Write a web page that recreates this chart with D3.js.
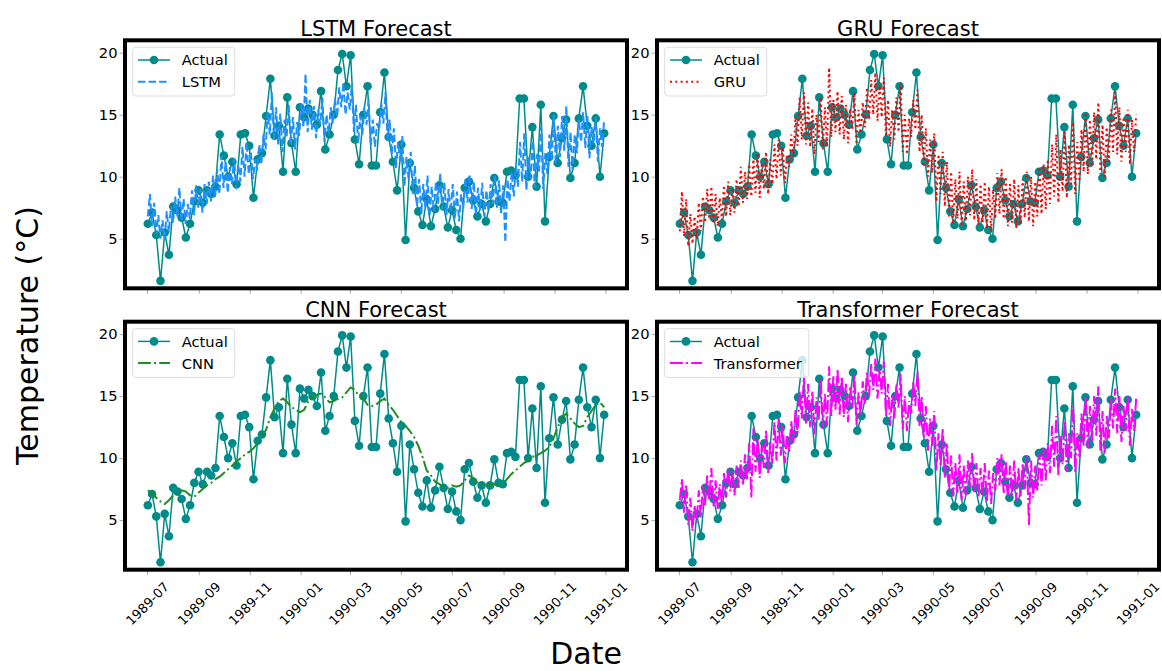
<!DOCTYPE html>
<html lang="en">
<head>
<meta charset="UTF-8">
<title>Forecast comparison</title>
<script src="https://cdn.jsdelivr.net/npm/d3@7"></script>
<style>
  body { margin: 0; background: #fff; }
  text { font-family: "DejaVu Sans", sans-serif; fill: #000; }
</style>
</head>
<body>
<svg id="chart"></svg>
<script>
// observed series, one point every ~5 days
var startDate = "1989-07-02";
var stepDays = 5.06;
var actual = [6.2, 7.1, 5.3, 1.6, 5.5, 3.7, 7.6, 7.3, 6.7, 5.1, 6.2, 8.0, 8.9, 7.9, 8.9, 8.6, 9.2, 13.4, 11.7, 10.0,
  11.2, 9.4, 13.4, 13.5, 12.5, 8.3, 11.4, 11.9, 14.9, 17.9, 13.3, 14.1, 10.4, 16.4, 12.7, 10.4, 15.6, 14.8, 15.5, 15.0,
  14.2, 16.9, 12.2, 13.4, 15.0, 18.6, 19.9, 17.3, 19.8, 13.0, 11.0, 15.0, 17.3, 10.9, 10.9, 15.2, 18.4, 13.2, 11.2, 8.9,
  12.6, 4.9, 11.1, 9.1, 7.2, 6.1, 8.2, 6.0, 7.4, 9.3, 7.6, 5.9, 7.3, 5.7, 5.0, 9.1, 9.6, 8.1, 6.8, 7.8,
  6.4, 7.8, 9.9, 8.0, 7.9, 10.4, 10.5, 10.1, 16.3, 16.3, 10.0, 14.0, 9.2, 15.8, 6.4, 11.6, 14.9, 11.1, 13.1, 14.6,
  9.9, 11.1, 14.7, 17.3, 14.1, 12.5, 14.7, 10.0, 13.5];

// model forecasts (dense ones have two values per observed step)
var lstm = [6.8, 8.6, 6.0, 7.9, 5.4, 6.9, 5.0, 6.5, 4.9, 7.2, 5.5, 7.6, 6.3, 8.4, 6.8, 9.1, 6.4, 8.2, 6.2, 7.8,
  6.6, 8.9, 6.9, 9.3, 7.5, 9.0, 7.1, 9.4, 7.8, 9.6, 8.0, 10.1, 8.3, 10.6, 8.6, 11.7, 9.1, 11.2, 8.7, 10.8,
  9.4, 11.5, 9.0, 11.0, 9.6, 12.4, 10.0, 12.8, 10.2, 12.0, 9.8, 11.4, 10.5, 12.6, 11.0, 13.4, 12.2, 15.2, 13.4, 16.8,
  13.0, 15.6, 12.6, 15.1, 12.0, 14.6, 13.2, 15.8, 12.5, 14.8, 12.2, 14.4, 13.3, 15.9, 14.0, 18.3, 13.6, 16.2, 13.8, 15.7,
  13.1, 15.4, 14.2, 16.4, 12.8, 15.0, 13.5, 15.6, 14.3, 16.3, 14.8, 17.2, 15.6, 17.6, 15.0, 16.8, 15.4, 17.4, 13.6, 15.8,
  12.7, 14.9, 13.4, 15.6, 14.2, 16.2, 12.5, 14.6, 12.4, 14.3, 13.8, 15.9, 14.3, 16.8, 12.9, 14.6, 11.8, 13.9, 10.7, 12.8,
  11.2, 13.3, 9.2, 11.6, 9.8, 12.0, 8.6, 10.9, 7.6, 9.8, 7.0, 9.4, 7.4, 10.1, 6.8, 9.2, 7.2, 9.6, 7.8, 10.3,
  7.3, 9.5, 6.9, 9.0, 7.1, 9.4, 6.6, 8.8, 6.4, 8.6, 7.5, 9.9, 7.9, 10.2, 7.4, 9.6, 6.9, 9.1, 7.3, 9.5,
  6.8, 8.9, 7.2, 9.4, 7.8, 10.1, 7.5, 9.7, 7.0, 9.3, 4.7, 9.8, 8.0, 10.4, 8.4, 10.9, 9.2, 12.8, 9.6, 13.5,
  8.9, 11.6, 9.8, 12.9, 9.1, 11.8, 10.4, 14.0, 9.0, 11.9, 10.2, 13.4, 11.3, 15.0, 11.0, 14.1, 11.6, 14.9, 12.1, 15.7,
  10.8, 13.6, 10.5, 13.4, 11.9, 14.6, 12.8, 15.2, 12.3, 14.9, 11.5, 14.0, 12.6, 14.8, 11.2, 13.9, 12.4, 14.6];

var gru = [5.6, 8.8, 5.2, 8.2, 4.4, 7.0, 4.6, 6.8, 5.0, 7.9, 5.6, 8.4, 6.3, 9.0, 6.6, 9.2, 6.2, 8.6, 6.0, 8.3,
  6.5, 9.3, 6.8, 9.6, 6.9, 9.1, 7.1, 9.8, 7.6, 10.8, 7.9, 10.4, 8.2, 11.0, 8.4, 11.4, 8.7, 11.9, 8.3, 11.1,
  9.0, 12.0, 8.6, 11.4, 9.4, 12.6, 9.8, 13.0, 10.1, 12.4, 9.5, 11.8, 10.8, 13.4, 11.6, 14.8, 12.5, 16.4, 13.0, 16.8,
  12.6, 16.0, 12.4, 15.5, 11.8, 15.0, 12.8, 16.4, 12.2, 15.6, 12.4, 18.8, 13.2, 16.2, 13.6, 16.9, 13.4, 16.5, 13.0, 15.8,
  12.7, 15.5, 13.8, 16.8, 12.6, 15.4, 13.3, 16.0, 14.0, 17.2, 14.6, 17.8, 15.0, 18.4, 14.5, 17.6, 14.8, 18.0, 13.2, 16.2,
  12.4, 15.4, 13.0, 16.4, 13.6, 17.6, 12.0, 15.0, 11.8, 14.7, 13.2, 16.2, 13.8, 17.0, 12.0, 15.0, 10.8, 13.9, 10.0, 13.0,
  10.3, 13.5, 8.0, 11.8, 8.6, 12.0, 7.6, 11.2, 6.8, 10.4, 6.2, 9.8, 6.6, 10.4, 6.0, 9.6, 6.4, 10.0, 6.9, 10.6,
  6.5, 9.8, 6.1, 9.4, 6.3, 9.6, 5.8, 9.2, 5.6, 9.0, 6.6, 10.3, 7.0, 10.6, 6.6, 10.0, 6.0, 9.4, 6.3, 9.8,
  5.8, 9.3, 6.1, 9.8, 6.7, 10.4, 6.4, 10.0, 6.0, 9.6, 6.8, 10.8, 7.0, 11.0, 7.4, 11.4, 7.8, 12.6, 8.4, 13.4,
  7.9, 12.2, 8.8, 13.6, 8.3, 12.6, 9.4, 14.4, 8.6, 12.8, 9.6, 13.8, 10.4, 15.2, 10.2, 14.6, 10.8, 15.2, 11.4, 16.0,
  10.2, 14.2, 10.0, 14.0, 11.2, 15.4, 12.0, 16.8, 11.8, 15.6, 11.2, 14.8, 12.0, 15.4, 11.0, 14.6, 12.0, 15.0];

var cnn = [7.4, 7.2, 6.8, 6.5, 6.3, 6.6, 7.0, 7.2, 7.4, 7.3, 7.0, 6.9, 7.2, 7.5, 7.8, 8.0, 8.3, 8.5, 8.8, 9.1,
  9.4, 9.7, 10.0, 10.3, 10.5, 10.8, 11.2, 11.7, 12.3, 13.3, 14.0, 14.6, 14.8, 14.5, 14.1, 13.9, 13.7, 13.9, 14.6, 14.9,
  15.1, 15.2, 14.9, 14.5, 14.6, 14.8, 14.9, 15.3, 15.7, 15.5, 15.0, 14.8, 14.3, 14.2, 14.3, 14.6, 14.8, 14.3, 13.9, 13.4,
  12.9, 12.6, 12.2, 11.7, 11.0, 10.1, 9.0, 8.6, 8.1, 7.9, 7.7, 7.6, 7.8, 7.7, 7.8, 8.2, 8.6, 8.4, 8.0, 7.9,
  7.9, 7.8, 7.9, 7.8, 7.9, 8.3, 8.7, 9.0, 9.3, 9.6, 9.8, 10.1, 10.2, 10.4, 10.6, 10.9, 11.6, 12.5, 13.2, 13.6,
  13.2, 12.8, 12.5, 12.6, 13.3, 13.8, 14.3, 14.5, 14.1];

var transformer = [6.6, 8.3, 5.6, 7.9, 4.6, 6.8, 4.1, 6.2, 4.8, 7.4, 5.2, 7.8, 6.2, 8.6, 6.6, 9.2, 6.1, 8.2, 5.9, 7.9,
  6.3, 8.8, 6.8, 9.2, 7.3, 9.0, 7.0, 9.4, 7.6, 9.8, 7.8, 10.3, 8.2, 11.2, 6.8, 12.4, 8.9, 11.6, 8.4, 11.0,
  9.2, 12.2, 8.8, 11.3, 9.5, 12.9, 9.8, 13.2, 10.2, 12.6, 9.6, 11.9, 10.5, 13.0, 11.2, 13.9, 12.0, 15.4, 13.2, 16.7,
  12.8, 16.0, 12.5, 15.4, 11.9, 14.9, 13.0, 16.4, 12.4, 15.2, 12.6, 17.4, 13.4, 16.6, 13.9, 17.2, 13.5, 16.6, 13.3, 16.0,
  12.9, 15.8, 14.0, 16.8, 12.7, 15.3, 13.4, 16.2, 14.4, 17.0, 15.0, 17.6, 15.5, 18.0, 14.8, 17.2, 15.2, 17.8, 13.4, 16.0,
  12.6, 15.2, 13.2, 16.0, 14.0, 16.8, 12.3, 15.0, 12.2, 14.6, 13.6, 16.2, 14.2, 17.0, 12.6, 15.0, 11.6, 14.2, 10.6, 13.2,
  11.0, 13.8, 9.0, 12.0, 9.4, 12.4, 8.4, 11.2, 7.4, 10.2, 6.9, 9.6, 7.2, 10.3, 6.6, 9.4, 7.0, 9.8, 7.6, 10.4,
  7.2, 9.6, 6.8, 9.2, 7.0, 9.6, 6.5, 9.0, 6.3, 8.8, 7.4, 10.0, 7.8, 10.3, 7.2, 9.8, 6.6, 9.4, 7.0, 9.8,
  6.5, 9.2, 6.9, 9.6, 7.5, 10.2, 4.6, 9.8, 6.8, 9.4, 7.4, 10.4, 7.8, 10.8, 8.2, 11.2, 8.8, 12.6, 9.3, 13.4,
  8.6, 11.8, 9.5, 13.0, 8.9, 12.0, 10.0, 14.2, 8.8, 12.0, 10.0, 13.6, 11.0, 15.0, 10.8, 14.2, 11.3, 15.0, 11.8, 15.8,
  10.6, 13.8, 10.4, 13.4, 11.6, 14.8, 12.4, 15.6, 12.0, 15.0, 11.3, 14.2, 12.2, 15.0, 11.0, 14.0, 12.2, 14.8];

var models = ["LSTM", "GRU", "CNN", "Transformer"];
var forecasts = [lstm, gru, cnn, transformer];
var colors = ["#1e90ff", "#ff0000", "#228b22", "#ff00ff"];
var dashes = ["7.4,3.2", "2,3.3", "12.8,3.2,2,3.2", "12.8,3.2,2,3.2"];
var yTicks = [5, 10, 15, 20];
var actualColor = "#008b8b";

// layout
var W = 1162, H = 671;
var pw = 502, ph = 248;
var origins = [[125, 40.3], [657, 40.3], [125, 321.7], [657, 321.7]];

var svg = d3.select("#chart").attr("width", W).attr("height", H);

var t0 = d3.utcParse("%Y-%m-%d")(startDate).getTime();
var dates = actual.map(function(d, i) { return new Date(t0 + i * stepDays * 864e5); });
var ext = d3.extent(dates);
var pad = (ext[1] - ext[0]) * 0.05;
var xDomain = [new Date(+ext[0] - pad), new Date(+ext[1] + pad)];

models.forEach(function(name, k) {
  var g = svg.append("g")
    .attr("transform", "translate(" + origins[k][0] + "," + origins[k][1] + ")");
  var x = d3.scaleUtc().domain(xDomain).range([0, pw]);
  var y = d3.scaleLinear().domain([1, 21]).range([ph, 0]);
  var showLabels = k >= 2;

  // x axis
  var xa = g.append("g")
    .attr("transform", "translate(0," + ph + ")")
    .call(d3.axisBottom(x)
      .ticks(d3.utcMonth.every(2))
      .tickFormat(showLabels ? d3.utcFormat("%Y-%m") : "")
      .tickSize(5.5));
  xa.select(".domain").remove();
  xa.selectAll("line").attr("stroke", "#aaa");
  xa.selectAll("text")
    .attr("y", 0).attr("dy", null)
    .attr("font-size", "13px")
    .attr("text-anchor", "middle")
    .attr("dominant-baseline", "central")
    .attr("transform", "translate(0,34) rotate(-45)");

  // y axis
  var ya = g.append("g")
    .call(d3.axisLeft(y).tickValues(yTicks).tickSize(5.5).tickPadding(2));
  ya.select(".domain").remove();
  ya.selectAll("line").attr("stroke", "#aaa");
  ya.selectAll("text").attr("font-size", "14.7px").attr("fill", "#000");

  // actual series
  var line = d3.line()
    .x(function(d, i) { return x(dates[i]); })
    .y(function(d) { return y(d); });
  g.append("path")
    .datum(actual)
    .attr("fill", "none")
    .attr("stroke", actualColor)
    .attr("stroke-width", 1.5)
    .attr("d", line);
  g.append("g").selectAll("circle")
    .data(actual)
    .join("circle")
    .attr("cx", function(d, i) { return x(dates[i]); })
    .attr("cy", function(d) { return y(d); })
    .attr("r", 4.3)
    .attr("fill", actualColor);

  // forecast, spread over the same time span
  var fc = forecasts[k];
  var fi = d3.scaleLinear().domain([0, fc.length - 1]).range([+ext[0], +ext[1]]);
  var fline = d3.line()
    .x(function(d, i) { return x(new Date(fi(i))); })
    .y(function(d) { return y(d); });
  g.append("path")
    .datum(fc)
    .attr("fill", "none")
    .attr("stroke", colors[k])
    .attr("stroke-width", 2)
    .attr("stroke-dasharray", dashes[k])
    .attr("d", fline);

  // frame
  g.append("rect")
    .attr("width", pw).attr("height", ph)
    .attr("fill", "none")
    .attr("stroke", "#000")
    .attr("stroke-width", 4);

  // title
  g.append("text")
    .attr("x", pw / 2).attr("y", -4.5)
    .attr("text-anchor", "middle")
    .attr("font-size", "21px")
    .text(name + " Forecast");

  // legend
  var lg = g.append("g").attr("transform", "translate(7.7,7)");
  var box = lg.append("rect")
    .attr("rx", 3).attr("height", 48.7)
    .attr("fill", "#fff").attr("fill-opacity", 0.8)
    .attr("stroke", "#ddd");
  lg.append("line")
    .attr("x1", 5.3).attr("x2", 37.3).attr("y1", 12.7).attr("y2", 12.7)
    .attr("stroke", actualColor).attr("stroke-width", 1.5);
  lg.append("circle").attr("cx", 21.3).attr("cy", 12.7).attr("r", 4.3).attr("fill", actualColor);
  lg.append("line")
    .attr("x1", 5.3).attr("x2", 37.3).attr("y1", 34.4).attr("y2", 34.4)
    .attr("stroke", colors[k]).attr("stroke-width", 2)
    .attr("stroke-dasharray", dashes[k]);
  var t1 = lg.append("text").attr("x", 49).attr("y", 12.7)
    .attr("dominant-baseline", "central").attr("font-size", "14.7px").text("Actual");
  var t2 = lg.append("text").attr("x", 49).attr("y", 34.4)
    .attr("dominant-baseline", "central").attr("font-size", "14.7px").text(name);
  var tw = Math.max(t1.node().getComputedTextLength(), t2.node().getComputedTextLength());
  box.attr("width", 49 + tw + 7);
});

// shared axis labels
svg.append("text")
  .attr("x", 586).attr("y", 664)
  .attr("text-anchor", "middle")
  .attr("font-size", "30px")
  .text("Date");
svg.append("text")
  .attr("transform", "translate(38.3,335.5) rotate(-90)")
  .attr("text-anchor", "middle")
  .attr("font-size", "30px")
  .text("Temperature (°C)");
</script>
</body>
</html>
